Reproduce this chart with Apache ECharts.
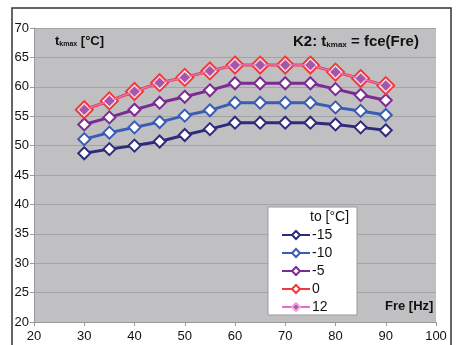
<!DOCTYPE html>
<html><head><meta charset="utf-8">
<script src="https://cdn.jsdelivr.net/npm/echarts@6/dist/echarts.min.js"></script>
<style>html,body{margin:0;padding:0;background:#fff}#c{width:459px;height:345px}</style>
</head><body><div id="c"></div>
<script>
const fre = [30,35,40,45,50,55,60,65,70,75,80,85,90];
const seriesNames = ['-15','-10','-5','0','12'];
const tm15 = [48.7,49.4,50.0,50.7,51.8,52.8,53.9,53.9,53.9,53.9,53.6,53.1,52.6];
const tm10 = [51.1,52.2,53.1,54.0,55.1,56.0,57.3,57.3,57.3,57.3,56.5,55.9,55.2];
const tm5  = [53.6,54.8,56.1,57.3,58.3,59.4,60.6,60.6,60.6,60.6,59.6,58.6,57.7];
const t0   = [56.1,57.6,59.2,60.7,61.6,62.7,63.7,63.7,63.7,63.7,62.5,61.4,60.2];
const t12  = [56.1,57.6,59.2,60.7,61.6,62.7,63.7,63.7,63.7,63.7,62.5,61.4,60.2];
const yTicks = [20,25,30,35,40,45,50,55,60,65,70];
const xTicks = [20,30,40,50,60,70,80,90,100];

const pair = arr => fre.map((f,i)=>[f,arr[i]]);
const font = 'Liberation Sans, Arial, sans-serif';
function mk(name, data, color, opts){
  return Object.assign({
    name, type:'line', data: pair(data), symbol:'diamond', symbolSize:12,
    lineStyle:{color, width:3}, itemStyle:{color:'#ffffff', borderColor:color, borderWidth:2},
    emphasis:{disabled:true}, animation:false, z:2
  }, opts||{});
}
const chart = echarts.init(document.getElementById('c'));
chart.setOption({
  animation:false,
  grid:{left:34, right:23, top:28, bottom:23, show:true, backgroundColor:'#c0c0c2', borderWidth:0},
  xAxis:{type:'value', min:xTicks[0], max:xTicks[xTicks.length-1], interval:10,
    axisLine:{show:true, lineStyle:{color:'#9a9a9a', width:1}},
    axisTick:{show:true, length:4, lineStyle:{color:'#9a9a9a'}},
    splitLine:{show:false},
    axisLabel:{color:'#111', fontFamily:font, fontSize:13, margin:8}},
  yAxis:{type:'value', min:yTicks[0], max:yTicks[yTicks.length-1], interval:5,
    axisLine:{show:true, lineStyle:{color:'#9a9a9a', width:1}},
    axisTick:{show:true, length:4, lineStyle:{color:'#9a9a9a'}},
    splitLine:{show:true, lineStyle:{color:'#a4a4a6', width:1}},
    axisLabel:{color:'#111', fontFamily:font, fontSize:13, margin:5}},
  legend:{show:true, orient:'vertical', left:276, top:221, itemGap:0, itemWidth:28, itemHeight:10,
    selectedMode:false, textStyle:{fontFamily:font, fontSize:14, lineHeight:18, height:18, color:'#111', padding:[0,0,0,-3]},
    data:seriesNames},
  series:[
    mk('-15', tm15, '#2f2b7c'),
    mk('-10', tm10, '#3b5cb4'),
    mk('-5', tm5, '#7b2c93'),
    mk('0', t0, '#f03a3a', {symbolSize:17, z:3}),
    mk('12', t12, '#e080cc', {symbolSize:11, z:4, lineStyle:{color:'#e070c0', width:1.5},
       itemStyle:{color:'#a258a6', borderColor:'#f0a0e0', borderWidth:1}})
  ],
  graphic:[
    {type:'rect', shape:{x:12, y:8, width:439, height:360}, style:{fill:'none', stroke:'#333', lineWidth:1.5}, z:0, silent:true},
    {type:'rect', shape:{x:268, y:207, width:89, height:108}, style:{fill:'#ffffff', stroke:'#999', lineWidth:1}, z:1},
    {type:'text', left:310, top:210, style:{text:'to [°C]', font:'14px '+font, fill:'#111'}, z:10},
    {type:'text', left:55, top:35, z:10, style:{
      text:'{a|t}{s|kmax}{a| [°C]}',
      rich:{a:{font:'bold 13px '+font, fill:'#111'}, s:{font:'bold 7px '+font, fill:'#111', verticalAlign:'bottom', padding:[6,0,0,0]}}}},
    {type:'text', left:293, top:34, z:10, style:{
      text:'{a|K2: t}{s|kmax}{a| = fce(Fre)}',
      rich:{a:{font:'bold 15px '+font, fill:'#111'}, s:{font:'bold 8px '+font, fill:'#111', verticalAlign:'bottom', padding:[7,0,0,0]}}}},
    {type:'text', left:385, top:300, z:10, style:{text:'Fre [Hz]', font:'bold 13px '+font, fill:'#111'}}
  ]
});
</script></body></html>
